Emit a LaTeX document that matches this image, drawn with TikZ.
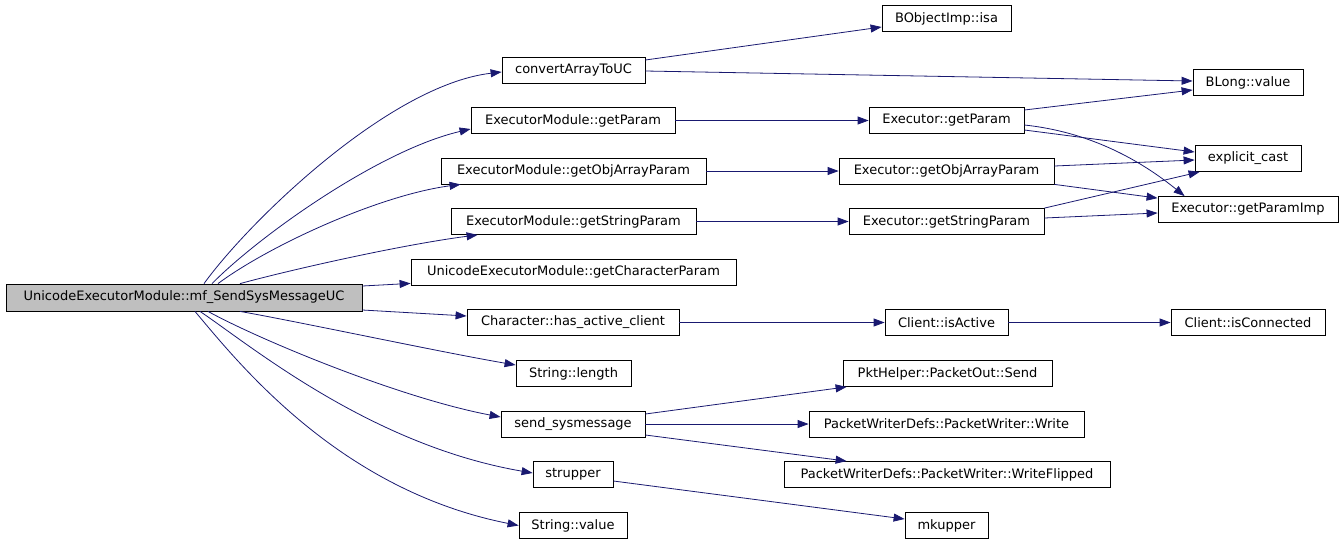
\documentclass[tikz,border=0pt]{standalone}
\usepackage{fontspec}
\setmainfont{DejaVu Sans}
\usetikzlibrary{arrows.meta}
\definecolor{callblue}{HTML}{191970}
\definecolor{rootgray}{HTML}{BFBFBF}

\begin{document}
\begin{tikzpicture}[x=1pt, y=-1pt,
	fn/.style={draw, line width=0.8pt, minimum height=26pt, inner sep=0pt,
		font=\fontsize{13}{15}\selectfont},
	call/.style={draw=callblue, line width=0.8pt, -{Triangle[length=11pt, width=8pt]}}]
	\useasboundingbox (0,0) rectangle (1344,544);
	% caller
	\node[fn, fill=rootgray, minimum width=356pt, minimum height=27pt] (root) at (184,297.5) {UnicodeExecutorModule::mf\_SendSysMessageUC};
	% first column
	\node[fn, minimum width=143pt] (convert) at (573.5,70) {convertArrayToUC};
	\node[fn, minimum width=204pt] (emGetParam) at (573,120.5) {ExecutorModule::getParam};
	\node[fn, minimum width=265pt] (emGetObj) at (573.5,171) {ExecutorModule::getObjArrayParam};
	\node[fn, minimum width=245pt] (emGetString) at (573.5,221.5) {ExecutorModule::getStringParam};
	\node[fn, minimum width=325pt] (uemGetChar) at (573.5,272) {UnicodeExecutorModule::getCharacterParam};
	\node[fn, minimum width=212pt] (hasClient) at (573,322.5) {Character::has\_active\_client};
	\node[fn, minimum width=115pt] (strLength) at (573.5,373.5) {String::length};
	\node[fn, minimum width=144pt] (sendSys) at (573,424) {send\_sysmessage};
	\node[fn, minimum width=80pt] (strupper) at (573,474.5) {strupper};
	\node[fn, minimum width=108pt] (strValue) at (573,525.5) {String::value};
	% second column
	\node[fn, minimum width=129pt] (isa) at (946.5,18.5) {BObjectImp::isa};
	\node[fn, minimum width=155pt] (exGetParam) at (946.5,120.5) {Executor::getParam};
	\node[fn, minimum width=215pt] (exGetObj) at (946.5,171) {Executor::getObjArrayParam};
	\node[fn, minimum width=195pt] (exGetString) at (946.5,221.5) {Executor::getStringParam};
	\node[fn, minimum width=123pt] (isActive) at (946.5,322.5) {Client::isActive};
	\node[fn, minimum width=209pt] (pktSend) at (947.5,373.5) {PktHelper::PacketOut::Send};
	\node[fn, minimum width=275pt] (pwWrite) at (946.5,424) {PacketWriterDefs::PacketWriter::Write};
	\node[fn, minimum width=326pt] (pwFlipped) at (947,474.5) {PacketWriterDefs::PacketWriter::WriteFlipped};
	\node[fn, minimum width=83pt] (mkupper) at (946.5,525.5) {mkupper};
	% third column
	\node[fn, minimum width=110pt] (blong) at (1248,82.5) {BLong::value};
	\node[fn, minimum width=106pt] (ecast) at (1248,158.5) {explicit\_cast};
	\node[fn, minimum width=180pt] (paramImp) at (1248,209.5) {Executor::getParamImp};
	\node[fn, minimum width=154pt] (isConnected) at (1248,322.5) {Client::isConnected};

	% calls from the caller
	\draw[call] ([xshift=20pt]root.north) .. controls (250,220) and (390,85) .. ([yshift=-2pt]convert.west);
	\draw[call] ([xshift=28pt]root.north) .. controls (260,235) and (380,150) .. ([yshift=-8.5pt]emGetParam.west);
	\draw[call] ([xshift=34pt]root.north) .. controls (270,245) and (380,195) .. ([xshift=20pt]emGetObj.south west);
	\draw[call] ([xshift=56pt]root.north) .. controls (290,270) and (400,245) .. ([xshift=27pt]emGetString.south west);
	\draw[call] ([yshift=11.5pt]root.east) -- ([yshift=2pt]uemGetChar.south west);
	\draw[call] ([yshift=-12.5pt]root.east) -- ([yshift=6.5pt]hasClient.west);
	\draw[call] ([xshift=56pt]root.south) .. controls (300,322) and (440,352) .. ([yshift=8.5pt]strLength.west);
	\draw[call] ([xshift=24pt]root.south) .. controls (260,340) and (400,398) .. ([yshift=7pt]sendSys.west);
	\draw[call] ([xshift=16pt]root.south) .. controls (250,345) and (370,445) .. ([yshift=1.5pt]strupper.west);
	\draw[call] ([xshift=11pt]root.south) .. controls (240,365) and (340,490) .. (strValue.west);
	% calls further on
	\draw[call] ([yshift=10pt]convert.east) -- ([yshift=-8.5pt]isa.west);
	\draw[call] ([yshift=-1pt]convert.east) -- ([yshift=1.5pt]blong.west);
	\draw[call] (emGetParam) -- (exGetParam);
	\draw[call] (emGetObj) -- (exGetObj);
	\draw[call] (emGetString) -- (exGetString);
	\draw[call] (hasClient) -- (isActive);
	\draw[call] (isActive) -- (isConnected);
	\draw[call] ([yshift=10pt]sendSys.east) -- ([xshift=4pt]pktSend.south west);
	\draw[call] (sendSys) -- (pwWrite);
	\draw[call] ([yshift=-11pt]sendSys.east) -- ([xshift=63pt]pwFlipped.north west);
	\draw[call] ([yshift=-6.5pt]strupper.east) -- ([yshift=6.5pt]mkupper.west);
	\draw[call] ([yshift=10.5pt]exGetParam.east) -- ([yshift=-7.5pt]blong.west);
	\draw[call] ([yshift=-9.5pt]exGetParam.east) -- ([yshift=6.5pt]ecast.west);
	\draw[call] ([yshift=-4.5pt]exGetParam.east) .. controls (1090,132) and (1140,160) .. ([xshift=27pt]paramImp.north west);
	\draw[call] ([yshift=5pt]exGetObj.east) -- ([yshift=-1.5pt]ecast.west);
	\draw[call] (exGetObj.south east) -- ([yshift=-2pt]paramImp.north west);
	\draw[call] (exGetString.north east) -- ([xshift=5pt]ecast.south west);
	\draw[call] ([yshift=3.5pt]exGetString.east) -- ([yshift=-3.5pt]paramImp.west);
\end{tikzpicture}
\end{document}
